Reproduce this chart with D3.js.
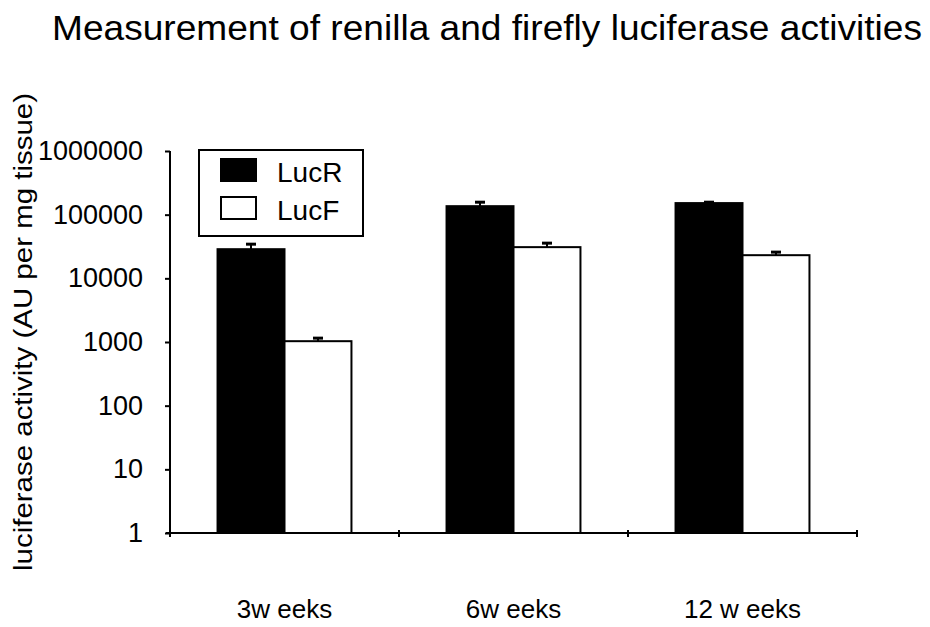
<!DOCTYPE html>
<html>
<head>
<meta charset="utf-8">
<script src="https://cdn.jsdelivr.net/npm/d3@7"></script>
<style>
  body { margin: 0; background: #fff; }
  text { font-family: "Liberation Sans", Arial, sans-serif; fill: #000; }
</style>
</head>
<body>
<svg id="chart" width="930" height="627"></svg>
<script>
var categories = ["3w eeks", "6w eeks", "12 w eeks"];
var series = ["LucR", "LucF"];
var lucR = [28700, 136000, 152000];
var lucF = [1030, 30900, 23100];
var lucRErr = [5700, 21000, 5000];
var lucFErr = [120, 4800, 2700];
var yTicks = [1, 10, 100, 1000, 10000, 100000, 1000000];

var svg = d3.select("#chart");

var plotLeft = 170, plotRight = 857, plotTop = 151, plotBottom = 533;

var x0 = d3.scaleBand().domain(categories).range([plotLeft, plotRight]).paddingInner(0).paddingOuter(0);
var x1 = d3.scaleBand().domain(series).range([0, x0.bandwidth()]).paddingInner(0).paddingOuter(0.71);
var y = d3.scaleLog().domain([1, 1000000]).range([plotBottom, plotTop]);

var fills = { LucR: "#000", LucF: "#fff" };
var values = { LucR: lucR, LucF: lucF };
var errs = { LucR: lucRErr, LucF: lucFErr };

// title
svg.append("text")
    .attr("x", 52)
    .attr("y", 40)
    .attr("font-size", 35)
    .attr("textLength", 870)
    .attr("lengthAdjust", "spacingAndGlyphs")
    .text("Measurement of renilla and firefly luciferase activities");

// bars
var groups = svg.selectAll("g.grp")
    .data(categories)
    .enter().append("g")
    .attr("class", "grp")
    .attr("transform", function (d) { return "translate(" + x0(d) + ",0)"; });

groups.each(function (cat, i) {
    var g = d3.select(this);
    series.forEach(function (s) {
        var v = values[s][i];
        var e = errs[s][i];
        var bx = x1(s), bw = x1.bandwidth();
        var cx = bx + bw / 2;
        g.append("line")
            .attr("x1", cx).attr("x2", cx)
            .attr("y1", y(v)).attr("y2", y(v + e))
            .attr("stroke", "#000").attr("stroke-width", 2);
        g.append("line")
            .attr("x1", cx - 5).attr("x2", cx + 5)
            .attr("y1", y(v + e)).attr("y2", y(v + e))
            .attr("stroke", "#000").attr("stroke-width", 3);
        g.append("rect")
            .attr("x", bx)
            .attr("y", y(v))
            .attr("width", bw)
            .attr("height", plotBottom - y(v))
            .attr("fill", fills[s])
            .attr("stroke", "#000")
            .attr("stroke-width", 2);
    });
});

// y axis
var yAxis = d3.axisLeft(y)
    .tickValues(yTicks)
    .tickFormat(d3.format("d"))
    .tickSize(5)
    .tickPadding(22);

var ya = svg.append("g")
    .attr("transform", "translate(" + plotLeft + ",0)")
    .call(yAxis);
ya.select(".domain").attr("stroke-width", 2).attr("d", "M0," + (plotBottom + 3) + "V" + plotTop);
ya.selectAll(".tick line").attr("stroke-width", 2);
ya.selectAll(".tick text")
    .attr("font-size", 27)
    .attr("font-family", "Liberation Sans, Arial, sans-serif")
    .attr("fill", "#000");

// x axis
var xTickPos = [plotLeft].concat(categories.map(function (c) { return x0(c) + x0.bandwidth(); }));
svg.append("line")
    .attr("x1", plotLeft - 4).attr("x2", plotRight + 1)
    .attr("y1", plotBottom).attr("y2", plotBottom)
    .attr("stroke", "#000").attr("stroke-width", 2);
svg.selectAll("line.xt")
    .data(xTickPos)
    .enter().append("line")
    .attr("class", "xt")
    .attr("x1", function (d) { return d; }).attr("x2", function (d) { return d; })
    .attr("y1", plotBottom - 3).attr("y2", plotBottom + 4)
    .attr("stroke", "#000").attr("stroke-width", 2);

svg.selectAll("text.xl")
    .data(categories)
    .enter().append("text")
    .attr("class", "xl")
    .attr("x", function (d) { return x0(d) + x0.bandwidth() / 2; })
    .attr("y", 618)
    .attr("text-anchor", "middle")
    .attr("font-size", 26)
    .text(function (d) { return d; });

// y label
svg.append("text")
    .attr("transform", "translate(32,332) rotate(-90)")
    .attr("text-anchor", "middle")
    .attr("font-size", 25)
    .attr("textLength", 478)
    .attr("lengthAdjust", "spacingAndGlyphs")
    .text("luciferase activity (AU per mg tissue)");

// legend
var legend = svg.append("g");
legend.append("rect")
    .attr("x", 199).attr("y", 150)
    .attr("width", 164).attr("height", 86)
    .attr("fill", "#fff").attr("stroke", "#000").attr("stroke-width", 2);
var li = legend.selectAll("g.li")
    .data(series)
    .enter().append("g")
    .attr("class", "li")
    .attr("transform", function (d, i) { return "translate(221," + (159 + i * 38) + ")"; });
li.append("rect")
    .attr("width", 35).attr("height", 22)
    .attr("fill", function (d) { return fills[d]; })
    .attr("stroke", "#000").attr("stroke-width", 2);
li.append("text")
    .attr("x", 56).attr("y", 23)
    .attr("font-size", 28)
    .text(function (d) { return d; });
</script>
</body>
</html>
